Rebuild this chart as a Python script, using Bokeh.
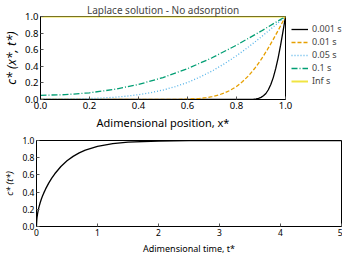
from bokeh.plotting import figure
from bokeh.models import Legend, LegendItem, FixedTicker, Range1d
from bokeh.embed import file_html
from bokeh.resources import INLINE

FONT = "Noto Sans"

# ---- top panel: concentration profiles c*(x*, t*) ----
x_t0001 = [0.0, 0.85, 0.86, 0.87, 0.88, 0.89, 0.90, 0.91, 0.92, 0.93, 0.94,
           0.95, 0.96, 0.97, 0.98, 0.99, 1.0]
c_t0001 = [0.0, 0.0009, 0.0017, 0.0038, 0.0073, 0.0137, 0.0254, 0.0443, 0.0725,
           0.1177, 0.1803, 0.2636, 0.3711, 0.5023, 0.6547, 0.8231, 1.0]

x_t001 = [0.0, 0.45, 0.5, 0.55, 0.6, 0.65, 0.675, 0.7, 0.725, 0.75, 0.775, 0.8,
          0.825, 0.85, 0.875, 0.9, 0.925, 0.95, 0.975, 1.0]
c_t001 = [0.0, 0.0001, 0.0004, 0.0015, 0.0047, 0.0133, 0.0218, 0.0339, 0.0525,
          0.0771, 0.1116, 0.1573, 0.2160, 0.2888, 0.3767, 0.4795, 0.5959, 0.7237,
          0.8597, 1.0]

x_t005 = [0.0, 0.05, 0.1, 0.15, 0.2, 0.25, 0.3, 0.35, 0.4, 0.45, 0.5, 0.55, 0.6,
          0.65, 0.7, 0.75, 0.8, 0.85, 0.9, 0.95, 1.0]
c_t005 = [0.0032, 0.0036, 0.005, 0.0075, 0.0115, 0.0178, 0.027, 0.0398, 0.058,
          0.0822, 0.114, 0.155, 0.205, 0.269, 0.343, 0.429, 0.527, 0.635, 0.752,
          0.874, 1.0]

x_t01 = [0.0, 0.1, 0.2, 0.3, 0.4, 0.5, 0.6, 0.7, 0.8, 0.9, 1.0]
c_t01 = [0.0506, 0.0580, 0.0809, 0.1211, 0.1814, 0.2643, 0.3714, 0.5025, 0.6548,
         0.8231, 1.0]

x_tinf = [0.0, 1.0]
c_tinf = [1.0, 1.0]

series_labels = ["0.001 s", "0.01 s", "0.05 s", "0.1 s", "Inf s"]
series_colors = ["#000000", "#E69F00", "#56B4E9", "#009E73", "#F0E442"]

# ---- bottom panel: average concentration c*(t*) ----
t_avg = [0.0, 0.001, 0.005, 0.01, 0.02, 0.03, 0.04, 0.06, 0.08, 0.1, 0.12, 0.15,
         0.2, 0.25, 0.3, 0.4, 0.5, 0.6, 0.7, 0.8, 1.0, 1.25, 1.5, 2.0, 2.5, 3.0,
         4.0, 5.0]
c_avg = [0.0, 0.0357, 0.0798, 0.1128, 0.1596, 0.1954, 0.2257, 0.2764, 0.3192,
         0.3568, 0.3909, 0.4370, 0.5041, 0.5622, 0.6132, 0.6979, 0.7640, 0.8155,
         0.8559, 0.8874, 0.9313, 0.9629, 0.9800, 0.9942, 0.9983, 0.9995, 1.0, 1.0]

top_ticks = [0.0, 0.2, 0.4, 0.6, 0.8, 1.0]
top_tick_labels = ["0.0", "0.2", "0.4", "0.6", "0.8", "1.0"]
bot_xticks = [0, 1, 2, 3, 4, 5]
bot_xtick_labels = ["0", "1", "2", "3", "4", "5"]


def style(p, tick_size, label_size):
    p.grid.visible = False
    p.outline_line_color = "black"
    p.outline_line_width = 1
    p.outline_line_alpha = 1
    p.background_fill_color = "white"
    p.border_fill_color = "white"
    for ax in (p.xaxis, p.yaxis):
        ax.major_tick_in = 3
        ax.major_tick_out = 0
        ax.minor_tick_line_color = None
        ax.axis_line_color = "black"
        ax.major_tick_line_color = "#555555"
        ax.major_label_text_font = FONT
        ax.major_label_text_font_size = tick_size
        ax.major_label_text_color = "black"
        ax.axis_label_text_font = FONT
        ax.axis_label_text_font_size = label_size
        ax.axis_label_text_font_style = "normal"
        ax.axis_label_text_color = "black"
        ax.major_label_standoff = 2
        ax.axis_label_standoff = 3


p1 = figure(frame_width=245, frame_height=83,
            x_range=Range1d(0, 1), y_range=Range1d(0, 1),
            output_backend="svg", toolbar_location=None,
            min_border_left=30, min_border_right=62, min_border_top=9,
            min_border_bottom=34)
style(p1, "9.5px", "11px")
p1.title.text = "Laplace solution - No adsorption"
p1.title.align = "center"
p1.title.text_font = FONT
p1.title.text_font_size = "10px"
p1.title.text_font_style = "normal"
p1.title.standoff = 0

p1.xaxis.ticker = FixedTicker(ticks=top_ticks)
p1.yaxis.ticker = FixedTicker(ticks=top_ticks)
p1.xaxis.major_label_overrides = dict(zip(top_ticks, top_tick_labels))
p1.yaxis.major_label_overrides = dict(zip(top_ticks, top_tick_labels))
p1.xaxis.axis_label = "Adimensional position, x*"
p1.yaxis.axis_label = "c* (x*, t*)"
p1.yaxis.axis_label_text_font_style = "italic"
p1.yaxis.axis_label_text_font_size = "12.5px"
p1.yaxis.axis_label_standoff = 2

r1 = p1.line(x_t0001, c_t0001, line_color=series_colors[0], line_width=1.3)
r2 = p1.line(x_t001, c_t001, line_color=series_colors[1], line_width=1.3,
             line_dash="4 2")
r3 = p1.line(x_t005, c_t005, line_color=series_colors[2], line_width=1.3,
             line_dash="1 2")
r4 = p1.line(x_t01, c_t01, line_color=series_colors[3], line_width=1.3,
             line_dash="6 2 1 2")
r5 = p1.line(x_tinf, c_tinf, line_color=series_colors[4], line_width=2)

legend = Legend(items=[LegendItem(label=l, renderers=[r])
                       for l, r in zip(series_labels, [r1, r2, r3, r4, r5])],
                location="top_left")
legend.margin = 6
legend.padding = 0
legend.spacing = 0
legend.glyph_width = 17
legend.glyph_height = 12
legend.label_height = 12
legend.label_standoff = 4
legend.label_text_font = FONT
legend.label_text_font_size = "9px"
legend.border_line_color = None
legend.background_fill_alpha = 0
p1.add_layout(legend, "right")

p2 = figure(frame_width=305, frame_height=86,
            x_range=Range1d(0, 5), y_range=Range1d(0, 1),
            output_backend="svg", toolbar_location=None,
            min_border_left=31, min_border_right=1, min_border_top=7,
            min_border_bottom=27)
style(p2, "8.5px", "9px")
p2.xaxis.ticker = FixedTicker(ticks=bot_xticks)
p2.xaxis.major_label_overrides = dict(zip(bot_xticks, bot_xtick_labels))
p2.yaxis.ticker = FixedTicker(ticks=top_ticks)
p2.yaxis.major_label_overrides = dict(zip(top_ticks, top_tick_labels))
p2.xaxis.axis_label = "Adimensional time, t*"
p2.yaxis.axis_label = "c* (t*)"
p2.yaxis.axis_label_text_font_style = "italic"
p2.line(t_avg, c_avg, line_color="black", line_width=1.3)

open("out.html", "w").write(file_html([p1, p2], INLINE))
